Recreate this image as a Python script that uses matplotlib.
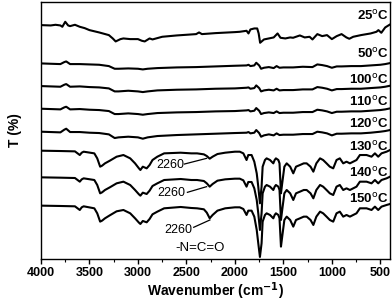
import numpy as np
import matplotlib as mpl
mpl.use('Agg')
import matplotlib.pyplot as plt
from matplotlib.ticker import MultipleLocator

plt.rcParams['font.family'] = ['Liberation Sans', 'DejaVu Sans']

# values: wavenumber (cm-1) and offset trace position (pixels from bottom * 3)
w_top = [4000, 3900, 3850, 3800, 3780, 3750, 3720, 3700, 3650, 3600, 3550, 3500, 3400, 3300, 3260,
         3230, 3180, 3150, 3080, 3000, 2960, 2930, 2880, 2850, 2750, 2600, 2500, 2400, 2370, 2340,
         2200, 2000, 1950, 1880, 1860, 1840, 1800, 1770, 1755, 1740, 1700, 1650, 1600, 1560, 1530,
         1480, 1430, 1400, 1330, 1280, 1230, 1200, 1150, 1100, 1050, 1000, 950, 900, 870, 850,
         820, 780, 700, 600, 540, 520, 490, 450, 400]
d_25 = [75, 76, 74, 76, 80, 65, 76, 78, 74, 80, 84, 90, 97, 105, 115,
        124, 117, 115, 117, 117, 122, 124, 115, 118, 110, 106, 104, 102, 97, 102,
        99, 96, 95, 92, 100, 88, 85, 85, 100, 128, 118, 115, 112, 100, 113,
        115, 112, 113, 106, 112, 110, 118, 102, 108, 105, 117, 108, 102, 108, 112,
        116, 110, 105, 100, 95, 90, 98, 82, 73]

w_mid = [4000, 3900, 3800, 3760, 3740, 3700, 3600, 3500, 3400, 3300, 3240, 3200, 3100, 3000, 2950,
         2900, 2800, 2600, 2400, 2200, 2000, 1880, 1860, 1840, 1800, 1780, 1750, 1730, 1700, 1650,
         1600, 1570, 1540, 1500, 1400, 1300, 1200, 1150, 1100, 1050, 1000, 950, 900, 800, 700,
         600, 500, 450, 400]
d_50 = [190, 191, 192, 186, 184, 192, 192, 193, 194, 198, 206, 206, 205, 206, 208,
        206, 204, 202, 201, 199, 197, 196, 194, 198, 196, 188, 196, 206, 203, 201,
        204, 198, 203, 202, 202, 200, 201, 193, 195, 198, 203, 199, 199, 198, 198,
        196, 194, 192, 189]
d_100 = [258, 259, 260, 254, 252, 260, 259, 261, 262, 265, 274, 274, 272, 274, 276,
         274, 271, 269, 268, 266, 265, 263, 262, 266, 264, 256, 264, 274, 271, 269,
         271, 266, 271, 270, 270, 268, 268, 261, 263, 266, 271, 267, 267, 266, 266,
         264, 262, 260, 257]
d_110 = [326, 327, 328, 322, 320, 328, 327, 329, 330, 333, 342, 342, 340, 342, 344,
         342, 339, 337, 336, 334, 333, 331, 330, 334, 332, 324, 332, 342, 339, 337,
         339, 334, 339, 338, 338, 336, 336, 329, 331, 334, 339, 335, 335, 334, 334,
         332, 330, 328, 325]
d_120 = [395, 396, 397, 389, 386, 396, 396, 398, 399, 403, 414, 412, 410, 412, 416,
         412, 408, 405, 403, 401, 399, 398, 396, 400, 398, 390, 399, 410, 406, 403,
         406, 400, 405, 404, 404, 402, 402, 395, 397, 400, 406, 401, 401, 400, 400,
         398, 395, 393, 390]

w_low = [4000, 3800, 3650, 3600, 3580, 3560, 3450, 3420, 3390, 3370, 3340, 3290, 3220, 3150, 3080,
         3030, 2990, 2975, 2950, 2910, 2880, 2850, 2800, 2730, 2560, 2450, 2390, 2320, 2290, 2260,
         2230, 2180, 2100, 2000, 1950, 1913, 1880, 1862, 1828, 1800, 1775, 1759, 1742, 1725, 1714,
         1690, 1673, 1638, 1604, 1590, 1577, 1552, 1540, 1525, 1510, 1490, 1466, 1430, 1398, 1370,
         1329, 1290, 1260, 1220, 1191, 1160, 1122, 1090, 1055, 1021, 986, 952, 918, 883, 849,
         814, 780, 746, 711, 642, 591, 556, 522, 488, 436, 400]
d_130 = [452, 453, 454, 465, 458, 455, 460, 475, 500, 497, 490, 482, 470, 465, 475,
         490, 505, 510, 500, 505, 495, 480, 470, 460, 458, 460, 460, 463, 468, 476,
         470, 462, 458, 455, 455, 460, 480, 465, 465, 485, 520, 560, 610, 560, 500,
         480, 475, 480, 490, 480, 475, 480, 490, 580, 545, 500, 490, 500, 520, 500,
         495, 490, 490, 500, 515, 490, 475, 480, 490, 500, 505, 480, 475, 490, 485,
         490, 485, 480, 465, 465, 470, 460, 470, 460, 455, 450]
d_140 = [532, 533, 534, 545, 538, 535, 540, 555, 580, 577, 570, 562, 550, 545, 555,
         570, 583, 587, 578, 582, 572, 558, 550, 540, 537, 540, 540, 543, 550, 560,
         552, 542, 538, 536, 536, 541, 560, 546, 546, 565, 600, 640, 690, 640, 580,
         560, 555, 560, 570, 560, 555, 560, 570, 660, 625, 580, 570, 580, 600, 580,
         575, 570, 570, 580, 595, 570, 555, 560, 570, 580, 585, 560, 555, 570, 565,
         570, 565, 560, 545, 545, 550, 540, 550, 540, 535, 530]
d_150 = [617, 618, 619, 630, 622, 619, 625, 640, 665, 662, 655, 646, 634, 630, 640,
         655, 668, 672, 663, 667, 657, 643, 635, 625, 621, 624, 625, 628, 638, 655,
         645, 632, 625, 622, 622, 627, 645, 632, 632, 650, 690, 730, 771, 730, 665,
         645, 640, 645, 655, 645, 640, 645, 655, 740, 705, 660, 650, 660, 680, 660,
         655, 650, 650, 660, 675, 650, 635, 640, 650, 660, 665, 640, 635, 650, 645,
         650, 645, 640, 625, 625, 630, 620, 630, 620, 615, 612]

temps = ['25', '50', '100', '110', '120', '130', '140', '150']
label_pos = [47, 160, 240, 305, 372, 440, 518, 598]
series = [(w_top, d_25), (w_mid, d_50), (w_mid, d_100), (w_mid, d_110), (w_mid, d_120),
          (w_low, d_130), (w_low, d_140), (w_low, d_150)]

# 2260 labels: text position and line ends
ann_text = [(2670, 495), (2653, 580), (2585, 690)]
ann_from = [(2520, 492), (2490, 577), (2425, 682)]
ann_to = [(2292, 475), (2292, 560), (2258, 660)]

top = 777  # frame bottom in the same units

fig = plt.figure(figsize=(3.92, 3.05), dpi=100)
ax = fig.add_axes([0.1046, 0.151, 0.8904, 0.842])

for w, d in series:
    ax.plot(w, top - np.array(d), color='black', lw=1.5)

for t, p in zip(temps, label_pos):
    ax.text(412, top - p, t + r'$^{\mathrm{o}}$C', ha='right', va='center',
            fontsize=9.5, fontweight='bold')

for (tx, ty), (fx, fy), (ex, ey) in zip(ann_text, ann_from, ann_to):
    ax.text(tx, top - ty, '2260', ha='center', va='center', fontsize=9)
    ax.plot([fx, ex], [top - fy, top - ey], color='black', lw=0.9)

ax.text(2360, top - 745, '-N=C=O', ha='center', va='center', fontsize=9.5)

ax.set_xlim(4000, 400)
ax.set_ylim(0, 771)
ax.xaxis.set_major_locator(MultipleLocator(500))
ax.xaxis.set_minor_locator(MultipleLocator(250))
ax.tick_params(axis='x', which='major', direction='out', length=3.5, width=1, labelsize=9, pad=2)
ax.tick_params(axis='x', which='minor', direction='out', length=2, width=0.8)
ax.set_yticks([])
for lbl in ax.get_xticklabels():
    lbl.set_fontweight('bold')
for s in ax.spines.values():
    s.set_linewidth(1)

ax.set_xlabel('Wavenumber (cm$^{\\mathbf{-1}}$)', fontsize=10, fontweight='bold', labelpad=1)
ax.set_ylabel('T (%)', fontsize=10, fontweight='bold', labelpad=14)

fig.savefig('out.png', dpi=100)
